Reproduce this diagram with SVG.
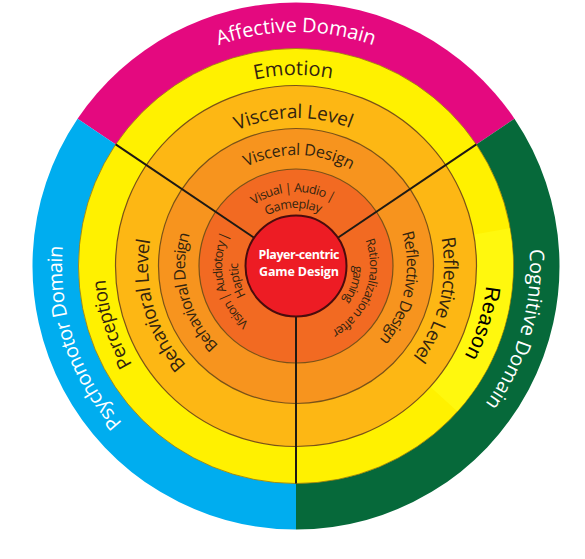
<svg xmlns="http://www.w3.org/2000/svg" xmlns:xlink="http://www.w3.org/1999/xlink" width="585" height="559" viewBox="0 0 585 559">
<style>
.lbl{font-family:"Open Sans","DejaVu Sans",sans-serif;fill:#33240f;text-anchor:middle;font-weight:500}
.dom{font-family:"Open Sans","DejaVu Sans",sans-serif;fill:#ffffff;text-anchor:middle;font-size:20px}
.ringline{stroke:#7a5218;stroke-width:1.2}
.conn{stroke:#1e1a14;stroke-width:2;fill:none}
</style>
<defs>
<path id="a234" d="M65.56,225.37 A234,234 0 0 1 526.44,225.37"/>
<path id="a191" d="M107.90,232.83 A191,191 0 0 1 484.10,232.83"/>
<path id="a148" d="M150.25,240.30 A148,148 0 0 1 441.75,240.30"/>
<path id="a111" d="M186.69,246.72 A111,111 0 0 1 405.31,246.72"/>
<path id="a74" d="M223.12,253.15 A74,74 0 0 1 368.88,253.15"/>
<path id="a58" d="M238.88,255.93 A58,58 0 0 1 353.12,255.93"/>
</defs>
<rect width="585" height="559" fill="#ffffff"/>
<g id="domain-ring">
<path d="M296,266 L77.55,118.65 A263.5,263.5 0 0 1 514.45,118.65 Z" fill="#E4097F"/>
<path d="M296,266 L296,529.5 A263.5,263.5 0 0 1 77.55,118.65 Z" fill="#00ADEF"/>
<path d="M296,266 L514.45,118.65 A263.5,263.5 0 0 1 296,529.5 Z" fill="#06693A"/>
</g>
<g id="ring-yellow">
<circle cx="296" cy="266" r="217.5" fill="#FFF100" stroke="#9a7a10" stroke-width="0.8"/>
<path d="M509.70,228.32 A217,217 0 0 1 457.26,411.20 L430.51,387.11 A181,181 0 0 0 474.25,234.57 Z" fill="#FFF80E"/>
</g>
<g id="ring-level"><circle cx="296" cy="266" r="180.5" fill="#FDB714" class="ringline"/></g>
<g id="ring-design"><circle cx="296" cy="266" r="137.5" fill="#F7941E" class="ringline"/></g>
<g id="ring-inner"><circle cx="296" cy="266" r="97" fill="#F26A22" class="ringline"/></g>
<g id="connectors">
<line class="conn" x1="337.87" y1="237.76" x2="476.32" y2="144.38"/>
<line class="conn" x1="254.13" y1="237.76" x2="115.68" y2="144.38"/>
<line class="conn" x1="296" y1="316.5" x2="296" y2="483.5"/>
</g>
<g id="center">
<circle cx="296" cy="266" r="50.5" fill="#ED1C24" stroke="#4a0c0c" stroke-width="2"/>
<text x="299" y="259" font-family="'Open Sans','DejaVu Sans',sans-serif" font-weight="700" font-size="12.5" fill="#ffffff" text-anchor="middle" textLength="81">Player-centric</text>
<text x="299" y="276" font-family="'Open Sans','DejaVu Sans',sans-serif" font-weight="700" font-size="12.5" fill="#ffffff" text-anchor="middle" textLength="80">Game Design</text>
</g>
<g id="affective-domain"><text class="dom"><textPath href="#a234" startOffset="50%" textLength="158">Affective Domain</textPath></text></g>
<g id="psychomotor-domain"><text class="dom" transform="rotate(-108.6 296 266)"><textPath href="#a234" startOffset="50%" textLength="192">Psychomotor Domain</textPath></text></g>
<g id="cognitive-domain"><text class="dom" transform="rotate(106 296 266)"><textPath href="#a234" startOffset="50%" textLength="164">Cognitive Domain</textPath></text></g>
<g id="emotion"><text class="lbl" font-size="20" transform="rotate(-0.8 296 266)"><textPath href="#a191" startOffset="50%" textLength="78">Emotion</textPath></text></g>
<g id="perception"><text class="lbl" font-size="19" transform="rotate(-107.5 296 266)"><textPath href="#a191" startOffset="50%" textLength="90">Perception</textPath></text></g>
<g id="reason"><text font-family="'Liberation Sans',Arial,sans-serif" font-size="21" fill="#000000" text-anchor="middle" transform="rotate(107 296 266)"><textPath href="#a191" startOffset="50%" textLength="74">Reason</textPath></text></g>
<g id="visceral-level"><text class="lbl" font-size="19" transform="rotate(-1 296 266)"><textPath href="#a148" startOffset="50%" textLength="116">Visceral Level</textPath></text></g>
<g id="behavioral-level"><text class="lbl" font-size="19" transform="rotate(-106 296 266)"><textPath href="#a148" startOffset="50%" textLength="135">Behavioral Level</textPath></text></g>
<g id="reflective-level"><text class="lbl" font-size="19" transform="rotate(103.5 296 266)"><textPath href="#a148" startOffset="50%" textLength="126">Reflective Level</textPath></text></g>
<g id="visceral-design"><text class="lbl" font-size="16" transform="rotate(1.5 296 266)"><textPath href="#a111" startOffset="50%" textLength="109">Visceral Design</textPath></text></g>
<g id="behavioral-design"><text class="lbl" font-size="16" transform="rotate(-104.5 296 266)"><textPath href="#a111" startOffset="50%" textLength="121">Behavioral Design</textPath></text></g>
<g id="reflective-design"><text class="lbl" font-size="16" transform="rotate(102 296 266)"><textPath href="#a111" startOffset="50%" textLength="114">Reflective Design</textPath></text></g>
<g id="visual-audio-gameplay">
<text class="lbl" font-size="12.5" transform="rotate(-2.3 296 266)"><textPath href="#a74" startOffset="50%" textLength="83">Visual | Audio |</textPath></text>
<text class="lbl" font-size="12.5" transform="rotate(-2.7 296 266)"><textPath href="#a58" startOffset="50%" textLength="55">Gameplay</textPath></text>
</g>
<g id="vision-audiotory-haptic">
<text class="lbl" font-size="12.5" transform="rotate(-102.7 296 266)"><textPath href="#a74" startOffset="50%" textLength="98">Vision | Audiotory |</textPath></text>
<text class="lbl" font-size="12.5" transform="rotate(-103.7 296 266)"><textPath href="#a58" startOffset="50%" textLength="34">Haptic</textPath></text>
</g>
<g id="rationalization-gaming">
<text class="lbl" font-size="12.5" transform="rotate(110.5 296 266)"><textPath href="#a74" startOffset="50%" textLength="106">Rationalization after</textPath></text>
<text class="lbl" font-size="12.5" transform="rotate(108 296 266)"><textPath href="#a58" startOffset="50%" textLength="37">gaming</textPath></text>
</g>
</svg>
